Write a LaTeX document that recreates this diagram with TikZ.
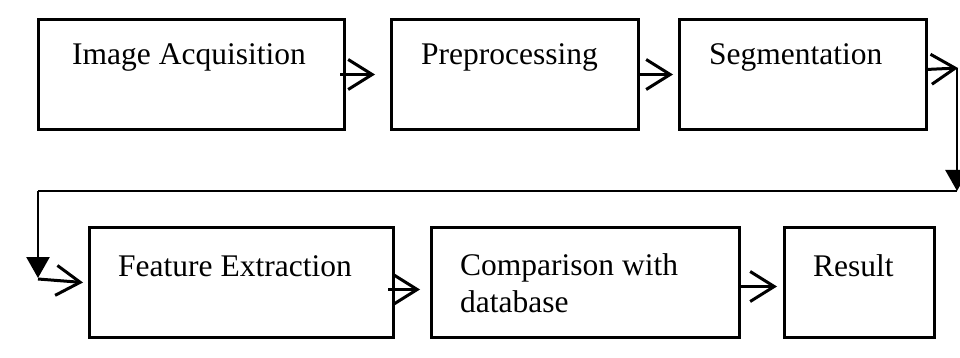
\documentclass[tikz,border=0pt]{standalone}
\usepackage{fontspec}
\setmainfont{Liberation Serif}
\usetikzlibrary{arrows.meta,calc}
\begin{document}
\begin{tikzpicture}[x=1pt,y=-1pt,
  box/.style={draw=black,line width=3pt,rectangle,inner sep=0pt,anchor=north west},
  lbl/.style={inner sep=0pt,anchor=base west,align=left,font=\fontsize{31.5}{37}\selectfont},
  arr/.style={line width=3pt,-{Straight Barb[length=24pt,width=30pt,line width=3pt]}},
  conn/.style={line width=2.4pt},
  tri/.style={line width=2.6pt,-{Triangle[length=21pt,width=23pt]}}]
\useasboundingbox (0,0) rectangle (960,358);
% boxes
\node[box,minimum width=306pt,minimum height=110pt] (b1) at (37,18) {};
\node[box,minimum width=247pt,minimum height=110pt] (b2) at (390,18) {};
\node[box,minimum width=247pt,minimum height=110pt] (b3) at (678,18) {};
\node[box,minimum width=304pt,minimum height=110pt] (b4) at (88,226) {};
\node[box,minimum width=308pt,minimum height=110pt] (b5) at (430,226) {};
\node[box,minimum width=150pt,minimum height=110pt] (b6) at (783,226) {};
% labels
\node[lbl] (t1) at ($(b1.north west)+(35,47)$) {Image Acquisition};
\node[lbl] (t2) at ($(b2.north west)+(31,47)$) {Preprocessing};
\node[lbl] (t3) at ($(b3.north west)+(31,47)$) {Segmentation};
\node[lbl] (t4) at ($(b4.north west)+(30,50)$) {Feature Extraction};
\node[lbl] (t5) at ($(b5.north west)+(30,86)$) {Comparison with\\database};
\node[lbl] (t6) at ($(b6.north west)+(30,50)$) {Result};
% coordinates
\coordinate (c1) at (957,68);
\coordinate (c2) at (957,191);
\coordinate (c3) at (38,191);
\coordinate (c4) at (38,278);
% arrows
\draw[arr] ([xshift=-6pt]b1.east) -- ([xshift=-15pt]b2.west);
\draw[arr] (b2.east) -- ([xshift=-5pt]b3.west);
\draw[arr] ([xshift=-2pt,yshift=5pt]b3.east) -- ([xshift=1pt]c1);
\draw[tri] (c1) -- (c2);
\draw[conn] (c2) -- (c3);
\draw[tri] (c3) -- (c4);
\draw[arr] ([yshift=-1pt]c4) -- ([xshift=-5pt]b4.west);
\draw[arr] ([xshift=-7pt,yshift=-7pt]b4.east) -- ([xshift=-10pt,yshift=-7pt]b5.west);
\draw[arr] ([yshift=-4pt]b5.east) -- ([xshift=-6pt,yshift=-4pt]b6.west);
\end{tikzpicture}
\end{document}
